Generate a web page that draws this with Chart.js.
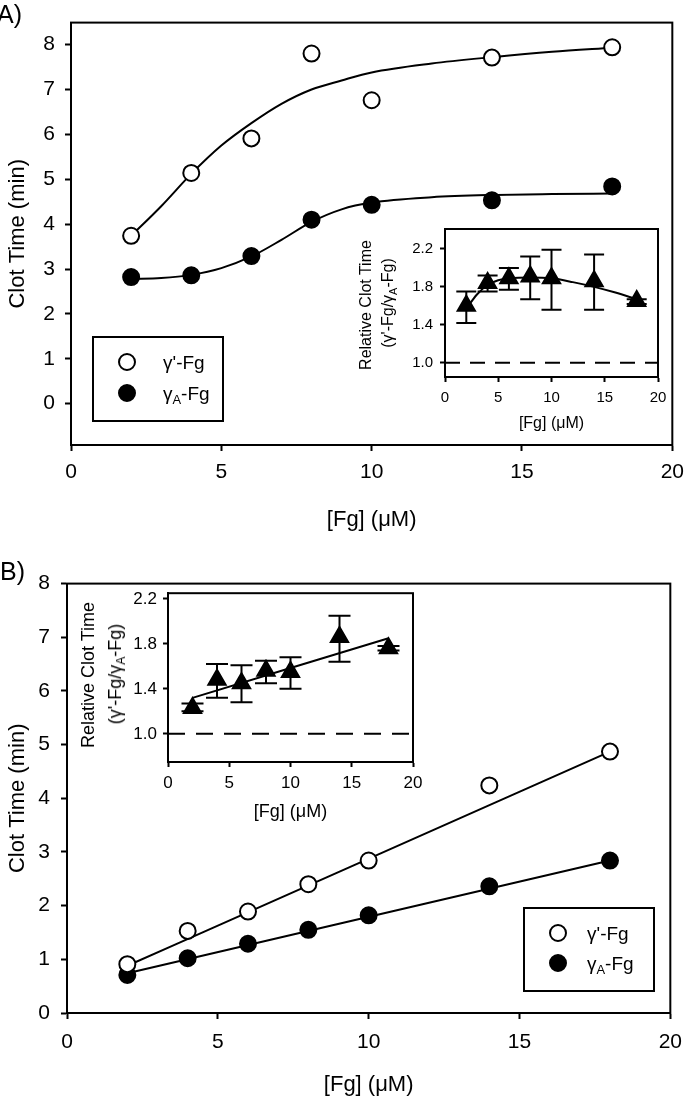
<!DOCTYPE html>
<html>
<head>
<meta charset="utf-8">
<script src="https://cdn.jsdelivr.net/npm/chart.js@4/dist/chart.umd.min.js"></script>
<style>
  body { margin: 0; background: #fff; }
  #page { position: relative; width: 693px; height: 1098px; overflow: hidden; font-family: 'Liberation Sans', Arial, sans-serif; color: #000; }
  canvas { position: absolute; }
  .panel { position: absolute; font-size: 25px; line-height: 1; }
  .legend { position: absolute; border: 2px solid #000; box-sizing: border-box; }
  .mk { position: absolute; width: 18px; height: 18px; border-radius: 50%; box-sizing: border-box; border: 2px solid #000; transform: translate(-50%, -50%); }
  .mk.open { background: #fff; }
  .mk.fill { background: #000; }
  .lt { position: absolute; font-size: 19px; line-height: 1; transform: translateY(-50%); white-space: nowrap; }
  sub { font-size: 0.68em; vertical-align: -0.35em; line-height: 0; }
  .ytitle { position: absolute; width: 0; height: 0; }
  .ytitle span { position: absolute; left: 0; top: 0; transform: translate(-50%, -50%) rotate(-90deg); white-space: nowrap; line-height: 1; }
</style>
</head>
<body>
<div id="page">
  <canvas id="mainA" width="693" height="545" style="left:0;top:0"></canvas>
  <canvas id="insetA" width="280" height="225" style="left:400px;top:213px"></canvas>
  <canvas id="mainB" width="693" height="538" style="left:0;top:560px"></canvas>
  <canvas id="insetB" width="310" height="253" style="left:120px;top:577px"></canvas>

  <div class="panel" style="left:-3px;top:2px">A)</div>
  <div class="panel" style="left:0;top:559px">B)</div>

  <div class="ytitle" style="left:366px;top:305px"><span style="font-size:16px">Relative Clot Time</span></div>
  <div class="ytitle" style="left:388px;top:303px"><span style="font-size:16px">(γ'-Fg/γ<sub>A</sub>-Fg)</span></div>
  <div class="ytitle" style="left:88px;top:675px"><span style="font-size:18px">Relative Clot Time</span></div>
  <div class="ytitle" style="left:115px;top:674px"><span style="font-size:18px">(γ'-Fg/γ<sub>A</sub>-Fg)</span></div>

  <div class="legend" style="left:92px;top:336px;width:132px;height:86px"></div>
  <div class="mk open" style="left:127px;top:362px"></div>
  <div class="lt" style="left:163px;top:362px">γ'-Fg</div>
  <div class="mk fill" style="left:127px;top:393px"></div>
  <div class="lt" style="left:163px;top:393px">γ<sub>A</sub>-Fg</div>

  <div class="legend" style="left:523px;top:907px;width:132px;height:85px"></div>
  <div class="mk open" style="left:558px;top:933px"></div>
  <div class="lt" style="left:587px;top:933px">γ'-Fg</div>
  <div class="mk fill" style="left:558px;top:963px"></div>
  <div class="lt" style="left:587px;top:963px">γ<sub>A</sub>-Fg</div>
</div>
<script>
// Panel A: clot time vs fibrinogen
const concA = [2, 4, 6, 8, 10, 14, 18];
const primeA = [3.74, 5.14, 5.91, 7.80, 6.76, 7.71, 7.94];
const gammaA_A = [2.82, 2.86, 3.29, 4.10, 4.43, 4.53, 4.84];
// fitted curves
const curveXA = [2, 3, 4, 5, 6, 7, 8, 9, 10, 12, 14, 16, 18];
const curvePrimeA = [3.74, 4.40, 5.12, 5.75, 6.25, 6.68, 7.00, 7.20, 7.38, 7.58, 7.72, 7.84, 7.93];
const curveGammaA_A = [2.78, 2.80, 2.87, 3.02, 3.28, 3.65, 4.05, 4.33, 4.48, 4.60, 4.65, 4.67, 4.68];
// inset A: relative clot time
const ratioA = [1.60, 1.84, 1.89, 1.91, 1.89, 1.86, 1.65];
const ratioLowA = [1.42, 1.75, 1.77, 1.67, 1.56, 1.56, 1.62];
const ratioHighA = [1.75, 1.92, 2.00, 2.12, 2.19, 2.14, 1.67];
const ratioCurveXA = [2, 3, 4, 5, 6, 8, 10, 12, 14, 16, 18];
const ratioCurveA = [1.57, 1.72, 1.82, 1.87, 1.89, 1.90, 1.89, 1.85, 1.80, 1.74, 1.67];

// Panel B
const concB = [2, 4, 6, 8, 10, 14, 18];
const primeB = [0.91, 1.53, 1.89, 2.40, 2.84, 4.24, 4.87];
const gammaA_B = [0.71, 1.02, 1.29, 1.55, 1.82, 2.36, 2.84];
const lineXB = [2, 18];
const linePrimeB = [0.88, 4.87];
const lineGammaA_B = [0.74, 2.84];
// inset B
const ratioB = [1.23, 1.48, 1.45, 1.56, 1.55, 1.86, 1.76];
const ratioLowB = [1.20, 1.32, 1.28, 1.45, 1.40, 1.64, 1.74];
const ratioHighB = [1.27, 1.62, 1.61, 1.65, 1.68, 2.05, 1.78];
const ratioLineXB = [2, 18];
const ratioLineB = [1.32, 1.85];

// axes
const xTicks = [0, 5, 10, 15, 20];
const mainYTicks = [0, 1, 2, 3, 4, 5, 6, 7, 8];
const insetYTicks = [1.0, 1.4, 1.8, 2.2];
const refX = [0, 20];
const refY = 1.0;

Chart.defaults.font.family = "'Liberation Sans', Arial, sans-serif";
Chart.defaults.color = '#000';

function pts(xs, ys) {
    return xs.map((x, i) => ({ x: x, y: ys[i] }));
}

function markers(xs, ys, fill, style, radius) {
    return {
        data: pts(xs, ys), showLine: false, order: 0,
        pointStyle: style || 'circle', pointRadius: radius || 8, pointHoverRadius: radius || 8,
        pointBorderWidth: 2, pointBorderColor: '#000', pointBackgroundColor: fill
    };
}

function curve(xs, ys, dash) {
    return {
        data: pts(xs, ys), showLine: true, order: 1, pointRadius: 0, pointHoverRadius: 0,
        borderColor: '#000', borderWidth: 2, borderDash: dash || [],
        cubicInterpolationMode: 'monotone', fill: false
    };
}

// vertical error bars with caps
const errorBarPlugin = {
    id: 'errorBars',
    beforeDatasetsDraw(chart, args, opts) {
        if (!opts || !opts.low) return;
        const ctx = chart.ctx, x = chart.scales.x, y = chart.scales.y;
        ctx.save();
        ctx.strokeStyle = '#000';
        ctx.lineWidth = 2;
        opts.xs.forEach((v, i) => {
            const px = x.getPixelForValue(v);
            const lo = y.getPixelForValue(opts.low[i]);
            const hi = y.getPixelForValue(opts.high[i]);
            ctx.beginPath();
            ctx.moveTo(px, lo); ctx.lineTo(px, hi);
            ctx.moveTo(px - opts.cap, lo); ctx.lineTo(px + opts.cap, lo);
            ctx.moveTo(px - opts.cap, hi); ctx.lineTo(px + opts.cap, hi);
            ctx.stroke();
        });
        ctx.restore();
    }
};

// box round the plot area
const framePlugin = {
    id: 'frame',
    afterDraw(chart) {
        const a = chart.chartArea, ctx = chart.ctx;
        ctx.save();
        ctx.strokeStyle = '#000';
        ctx.lineWidth = 2;
        ctx.strokeRect(a.left, a.top, a.right - a.left, a.bottom - a.top);
        ctx.restore();
    }
};

function xAxis(o) {
    return {
        type: 'linear', min: 0, max: 20,
        afterBuildTicks: s => { s.ticks = xTicks.map(v => ({ value: v })); },
        afterFit: s => { s.height = o.height; },
        grid: { drawOnChartArea: false, tickLength: o.tickLen, tickWidth: 2, tickColor: '#000' },
        border: { color: '#000', width: 2 },
        ticks: { color: '#000', font: { size: o.tickSize }, padding: o.tickPad, maxRotation: 0, autoSkip: false },
        title: { display: true, text: '[Fg] (μM)', color: '#000', font: { size: o.titleSize }, padding: { top: 0, bottom: o.titlePad } }
    };
}

function yAxis(o) {
    return {
        type: 'linear', min: o.min, max: o.max,
        afterBuildTicks: s => { s.ticks = o.ticks.map(v => ({ value: v })); },
        afterFit: s => { s.width = o.width; },
        grid: { drawOnChartArea: false, tickLength: o.tickLen, tickWidth: 2, tickColor: '#000' },
        border: { color: '#000', width: 2 },
        ticks: { color: '#000', font: { size: o.tickSize }, padding: o.tickPad, autoSkip: false,
                 callback: v => o.decimals ? v.toFixed(o.decimals) : String(v) },
        title: { display: !!o.title, text: o.title || '', color: '#000', font: { size: o.titleSize || 12 },
                 padding: { top: o.titlePad || 0, bottom: 0 } }
    };
}

function makeChart(id, datasets, padding, x, y, errorBars) {
    return new Chart(document.getElementById(id), {
        type: 'scatter',
        data: { datasets: datasets },
        plugins: [errorBarPlugin, framePlugin],
        options: {
            responsive: false, animation: false, events: [],
            layout: { padding: padding },
            plugins: { legend: { display: false }, tooltip: { enabled: false }, errorBars: errorBars || {} },
            scales: { x: x, y: y }
        }
    });
}

// main A
makeChart('mainA', [
    markers(concA, primeA, '#fff'),
    markers(concA, gammaA_A, '#000'),
    curve(curveXA, curvePrimeA),
    curve(curveXA, curveGammaA_A)
], { left: 0, top: 5, right: 11, bottom: 0 },
   xAxis({ height: 100, tickLen: 6, tickSize: 21, tickPad: 9, titleSize: 22, titlePad: 12 }),
   yAxis({ min: -0.92, max: 8.49, ticks: mainYTicks, width: 71, tickLen: 6, tickSize: 21, tickPad: 10,
           title: 'Clot Time (min)', titleSize: 22, titlePad: 5 }));

// inset A
makeChart('insetA', [
    markers(concA, ratioA, '#000', 'triangle', 10),
    curve(ratioCurveXA, ratioCurveA),
    curve(refX, [refY, refY], [15, 10])
], { left: 0, top: 10, right: 22, bottom: 0 },
   xAxis({ height: 61, tickLen: 5, tickSize: 15, tickPad: 7, titleSize: 16, titlePad: 5 }),
   yAxis({ min: 0.85, max: 2.41, ticks: insetYTicks, width: 45, tickLen: 5, tickSize: 15, tickPad: 7, decimals: 1 }),
   { xs: concA, low: ratioLowA, high: ratioHighA, cap: 10 });

// main B
makeChart('mainB', [
    markers(concB, primeB, '#fff'),
    markers(concB, gammaA_B, '#000'),
    curve(lineXB, linePrimeB),
    curve(lineXB, lineGammaA_B)
], { left: 0, top: 13, right: 16, bottom: 0 },
   xAxis({ height: 85, tickLen: 6, tickSize: 21, tickPad: 11, titleSize: 22, titlePad: 0 }),
   yAxis({ min: 0, max: 8, ticks: mainYTicks, width: 67, tickLen: 6, tickSize: 21, tickPad: 11,
           title: 'Clot Time (min)', titleSize: 22, titlePad: 5 }));

// inset B
makeChart('insetB', [
    markers(concB, ratioB, '#000', 'triangle', 10),
    curve(ratioLineXB, ratioLineB),
    curve(refX, [refY, refY], [17, 11])
], { left: 0, top: 10, right: 17, bottom: 0 },
   xAxis({ height: 68, tickLen: 5, tickSize: 17, tickPad: 6, titleSize: 18, titlePad: 7 }),
   yAxis({ min: 0.75, max: 2.25, ticks: insetYTicks, width: 48, tickLen: 5, tickSize: 17, tickPad: 6, decimals: 1 }),
   { xs: concB, low: ratioLowB, high: ratioHighB, cap: 11 });
</script>
</body>
</html>
